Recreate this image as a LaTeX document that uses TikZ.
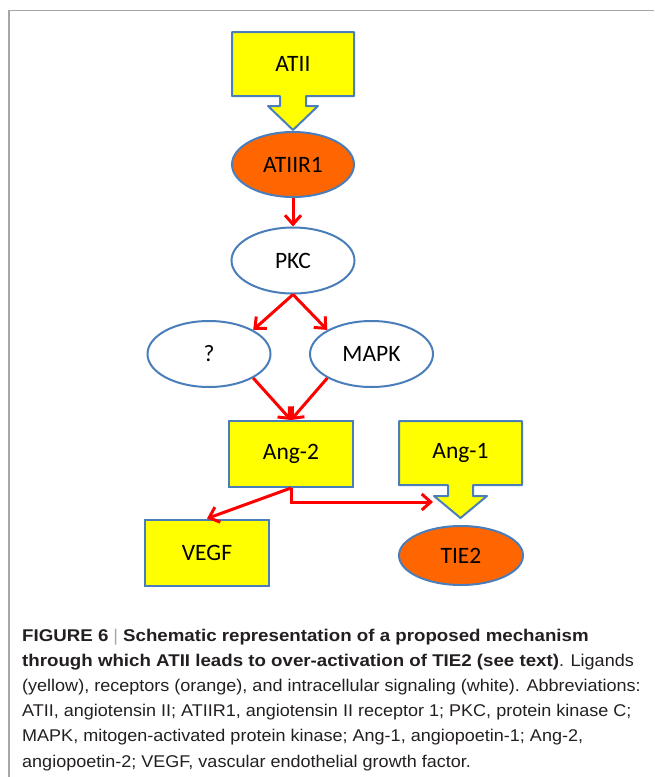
\documentclass[tikz,border=0pt]{standalone}
\usepackage{fontspec}
\setmainfont{Carlito}
\newfontfamily\capfont[FakeStretch=1.06, BoldFeatures={FakeStretch=1.10}]{Liberation Sans}
\usepackage{tikz}
\usetikzlibrary{shapes.geometric,arrows.meta}
\definecolor{edgeblue}{HTML}{4A7EBB}
\definecolor{recorange}{HTML}{FF6600}
\definecolor{ligyellow}{HTML}{FFFF00}
\definecolor{framegray}{HTML}{A6A6A6}
\definecolor{captext}{HTML}{231F20}

\begin{document}
\begin{tikzpicture}[x=1pt,y=-1pt,
		ligand/.style ={rectangle, draw=edgeblue, fill=ligyellow, line width=2pt, minimum width=124pt, minimum height=66pt, font=\fontsize{23.5}{27}\selectfont},
		receptor/.style ={ellipse, draw=edgeblue, fill=recorange, line width=2pt, minimum width=122pt, minimum height=65pt, font=\fontsize{23.5}{27}\selectfont},
		signal/.style ={ellipse, draw=edgeblue, fill=white, line width=2pt, minimum width=123pt, minimum height=66pt, font=\fontsize{23.5}{27}\selectfont},
		label/.style ={inner sep=0pt, font=\fontsize{23.5}{27}\selectfont},
		act/.style ={red, line width=3pt, -{Straight Barb[length=9pt,width=16pt]}},
		capline/.style ={anchor=base west, inner sep=0pt, text=captext, font=\capfont\fontsize{17}{20}\selectfont}]
		\useasboundingbox (0,0) rectangle (654,777);
		% frame
		\draw[framegray, line width=1.5pt] (9,777) -- (9,10.5) -- (654,10.5);
		% ligand block arrows
		\draw[draw=edgeblue, fill=ligyellow, line width=2pt, line join=round] (232,32) -- (354,32) -- (354,96) -- (306,96) -- (306,106) -- (318,106) -- (293,130) -- (268,106) -- (280,106) -- (280,96) -- (232,96) -- cycle;
		\node[label] (atii) at (293,64) {ATII};
		\draw[draw=edgeblue, fill=ligyellow, line width=2pt, line join=round] (399,421) -- (522,421) -- (522,485) -- (473,485) -- (473,496) -- (487,496) -- (460.5,518) -- (434,496) -- (448,496) -- (448,485) -- (399,485) -- cycle;
		\node[label] (ang1) at (460.5,453) {Ang-1};
		% nodes
		\node[receptor] (atiir1) at (293,164.5) {ATIIR1};
		\node[signal] (pkc) at (293,260.5) {PKC};
		\node[signal] (q) at (209,354) {?};
		\node[signal] (mapk) at (371.5,354) {MAPK};
		\node[ligand] (ang2) at (291,454) {Ang-2};
		\node[ligand] (vegf) at (207,552.5) {VEGF};
		\node[receptor, minimum width=124pt, minimum height=59pt] (tie2) at (461,555.5) {TIE2};
		\coordinate (tie2in) at (433,502);
		% arrows
		\draw[act] (atiir1)--(pkc);
		\draw[act] (pkc.south)--(q.north east);
		\draw[act] (pkc.south)--(mapk.north west);
		\draw[act] (q.south east)--(ang2.north);
		\draw[act] (mapk.south west)--(ang2.north);
		\draw[act] (ang2.south)--(vegf.north);
		\draw[act] (ang2.south)|-(tie2in);
		% caption
		\node[capline] (cap1) at (22,641) {\textbf{FIGURE 6} {\color{framegray}|} \textbf{Schematic representation of a proposed mechanism}};
		\node[capline] (cap2) at (22,666.2) {\textbf{through which ATII leads to over-activation of TIE2 (see text)}. Ligands};
		\node[capline] (cap3) at (22,691.4) {(yellow), receptors (orange), and intracellular signaling (white). Abbreviations:};
		\node[capline] (cap4) at (22,716.6) {ATII, angiotensin II; ATIIR1, angiotensin II receptor 1; PKC, protein kinase C;};
		\node[capline] (cap5) at (22,741.8) {MAPK, mitogen-activated protein kinase; Ang-1, angiopoetin-1; Ang-2,};
		\node[capline] (cap6) at (22,767) {angiopoetin-2; VEGF, vascular endothelial growth factor.};
	\end{tikzpicture}
\end{document}
